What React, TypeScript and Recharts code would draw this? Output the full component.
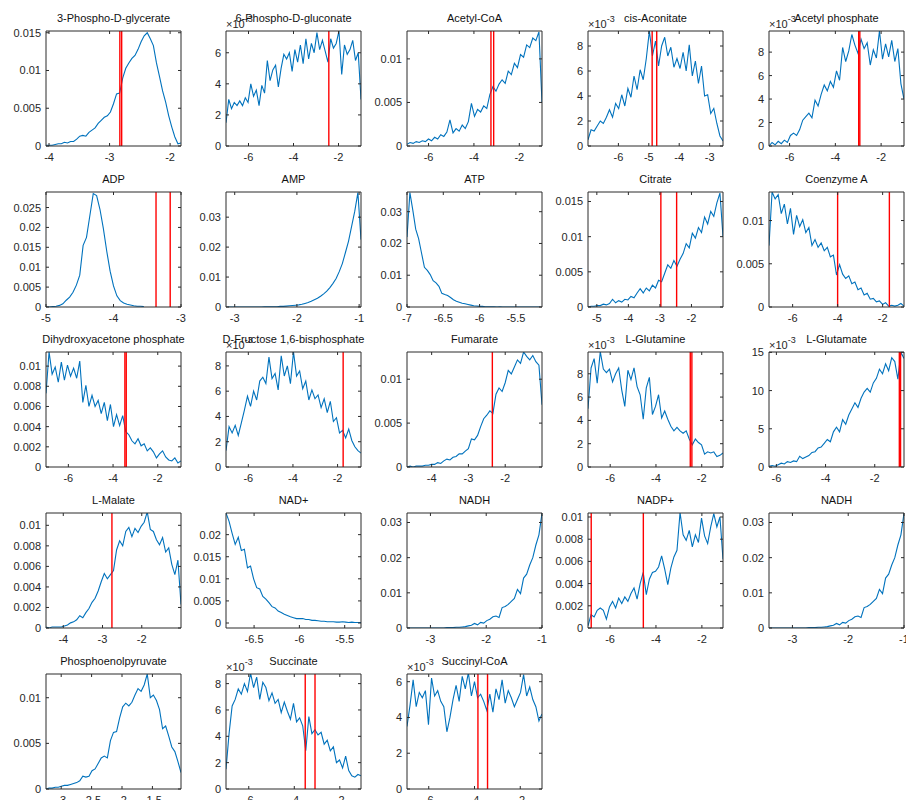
import React from "react";
import { LineChart, Line, XAxis, YAxis, ReferenceLine } from "recharts";

// histogram heights (units of 1e-3)
const PGA3 = [0.1, 0.1, 0.1, 0.2, 0.3, 0.3, 0.5, 0.4, 0.6, 0.6, 0.9, 1.3, 1.4, 1.3, 1.8, 2.1, 2.4, 3.0, 3.4, 3.8, 4.0, 4.5, 5.6, 6.9, 7.0, 9.0, 10.3, 11.0, 11.6, 12.0, 12.8, 13.8, 14.6, 15.0, 14.2, 13.3, 11.0, 9.2, 7.3, 5.8, 4.0, 2.5, 1.2, 0.3, 0.4];
const PGLUC6 = [1.5, 3.0, 2.4, 2.8, 2.6, 2.9, 2.6, 3.1, 2.8, 4.0, 3.2, 3.6, 2.6, 3.9, 3.4, 5.5, 4.2, 4.9, 5.2, 3.8, 5.0, 5.9, 5.6, 6.0, 4.8, 6.2, 5.4, 6.5, 5.3, 6.9, 5.6, 6.6, 6.0, 7.3, 6.2, 6.8, 6.1, 5.4, 6.9, 6.3, 6.6, 7.4, 4.6, 6.5, 5.9, 6.2, 6.8, 5.5, 6.0, 3.0];
const ACCOA = [0.2, 0.4, 0.3, 0.5, 0.4, 0.6, 0.5, 0.8, 0.6, 1.0, 0.8, 1.3, 1.1, 1.6, 3.0, 1.5, 2.0, 1.7, 2.4, 2.0, 2.8, 4.9, 3.4, 4.2, 3.9, 4.6, 4.3, 5.9, 6.8, 6.3, 7.1, 7.6, 7.2, 8.6, 8.2, 9.5, 9.0, 10.5, 10.2, 11.6, 11.3, 12.4, 12.1, 13.1, 5.0];
const CISACO = [0.5, 1.3, 1.2, 1.6, 2.0, 1.8, 2.3, 2.9, 2.3, 3.4, 3.0, 4.1, 3.2, 4.6, 3.9, 5.6, 4.5, 6.1, 5.3, 7.0, 9.2, 7.2, 8.4, 6.4, 8.0, 8.7, 7.2, 7.9, 6.3, 7.0, 6.2, 7.5, 6.0, 8.1, 5.6, 6.8, 5.0, 6.4, 4.0, 4.1, 2.6, 3.0, 1.8, 0.8, 0.4];
const ACP = [0.0, 0.3, 0.1, 0.4, 0.2, 0.5, 0.3, 0.9, 1.1, 0.9, 1.4, 2.2, 2.5, 2.8, 2.4, 3.9, 3.4, 4.4, 5.2, 4.7, 5.5, 5.0, 6.4, 5.6, 8.4, 7.2, 8.1, 9.5, 8.6, 7.9, 9.1, 8.3, 8.8, 6.9, 8.2, 7.5, 9.8, 7.4, 8.7, 7.6, 9.0, 7.2, 8.3, 5.3, 4.0];
const ADP = [0.0, 0.0, 0.1, 0.2, 0.4, 0.8, 1.7, 2.5, 3.7, 5.5, 8.0, 15.5, 17.5, 23.0, 28.5, 28.0, 24.5, 19.7, 14.0, 9.0, 5.3, 2.8, 1.6, 1.0, 0.7, 0.5, 0.3, 0.2, 0.2, 0.1];
const AMP = [0, 0, 0, 0, 0, 0, 0, 0, 0, 0, 0, 0.0, 0.1, 0.1, 0.1, 0.1, 0.1, 0.2, 0.2, 0.3, 0.4, 0.5, 0.6, 0.7, 0.9, 1.2, 1.5, 1.9, 2.4, 2.9, 3.6, 4.4, 5.3, 6.5, 7.9, 9.5, 11.8, 14.5, 18.2, 22.0, 27.0, 32.0, 38.2, 22.5];
const ATP = [22.0, 36.0, 30.5, 24.5, 21.5, 17.0, 12.5, 11.5, 10.2, 8.3, 7.6, 6.5, 4.3, 3.9, 3.6, 3.0, 2.3, 1.8, 1.5, 1.2, 1.0, 0.8, 0.6, 0.4, 0.3, 0.2, 0.2, 0.1, 0.1, 0.1, 0.1, 0.0, 0.1, 0.0, 0.0, 0.0, 0.0, 0.0, 0.0, 0.0, 0.0, 0.0, 0.0, 0.0, 0.0, 0.0, 0.0];
const CIT = [0.0, 0.1, 0.1, 0.2, 0.2, 0.4, 0.3, 0.5, 1.1, 0.6, 0.9, 0.7, 1.1, 1.0, 1.5, 1.3, 2.0, 2.6, 2.0, 2.7, 2.3, 3.1, 2.7, 3.8, 3.6, 4.8, 6.0, 5.5, 6.6, 5.8, 6.8, 7.6, 9.0, 8.4, 10.5, 9.8, 11.3, 10.6, 12.8, 11.8, 13.6, 12.9, 14.8, 16.2, 10.0];
const COA = [7.1, 13.3, 12.5, 13.0, 10.8, 11.9, 9.6, 11.4, 8.4, 10.6, 9.3, 10.1, 8.6, 9.2, 7.1, 7.8, 6.9, 7.4, 6.5, 6.9, 5.8, 6.0, 3.7, 4.9, 3.8, 3.3, 3.6, 2.7, 2.9, 2.0, 2.2, 1.4, 1.6, 0.9, 1.0, 0.6, 0.7, 0.3, 0.5, 0.1, 0.2, 0.1, 0.2, 0.4, 0.1];
const DHAP = [7.3, 11.4, 9.2, 9.9, 8.4, 10.4, 8.6, 10.1, 9.0, 9.8, 8.8, 10.5, 6.4, 8.1, 6.0, 7.1, 6.0, 6.6, 5.3, 6.4, 4.6, 6.2, 4.0, 5.2, 4.1, 5.1, 3.5, 3.2, 2.6, 2.3, 2.8, 2.1, 2.3, 1.6, 1.9, 1.5, 0.9, 1.3, 1.6, 1.0, 0.7, 0.6, 0.9, 0.4, 0.6];
const FBP = [1.3, 3.2, 2.7, 3.3, 2.5, 3.5, 4.5, 5.6, 4.8, 6.0, 5.3, 6.8, 7.1, 6.6, 8.7, 7.0, 7.4, 6.1, 8.8, 7.2, 8.0, 6.6, 9.1, 7.2, 7.6, 6.2, 6.8, 5.3, 6.1, 5.4, 5.7, 4.7, 5.4, 4.3, 5.2, 3.6, 3.9, 2.7, 2.9, 2.3, 3.0, 2.1, 1.6, 1.3, 1.1];
const FUM = [0.0, 0.1, 0.0, 0.1, 0.1, 0.1, 0.2, 0.2, 0.3, 0.3, 0.5, 0.4, 0.7, 0.9, 0.8, 1.1, 1.2, 1.5, 1.5, 1.8, 2.1, 3.2, 3.1, 3.6, 4.6, 5.5, 5.9, 6.4, 6.1, 8.3, 9.0, 8.6, 9.6, 11.0, 10.6, 11.4, 12.2, 11.8, 13.1, 12.6, 12.2, 12.7, 12.0, 11.6, 7.1];
const GLN = [5.0, 8.5, 9.3, 7.2, 9.9, 8.4, 8.1, 8.4, 7.3, 8.0, 8.5, 6.6, 5.2, 8.3, 7.5, 8.5, 6.9, 6.2, 4.1, 6.8, 7.7, 4.5, 5.2, 6.2, 4.2, 4.8, 4.1, 3.5, 3.1, 3.4, 3.1, 2.9, 3.1, 2.4, 1.9, 2.4, 2.1, 1.9, 1.1, 1.3, 1.2, 1.3, 0.9, 1.0, 1.2];
const GLU = [0.1, 0.2, 0.1, 0.3, 0.5, 0.4, 0.7, 0.6, 0.8, 0.7, 1.4, 1.1, 1.3, 1.5, 1.9, 2.0, 2.5, 2.6, 3.1, 3.6, 3.3, 4.6, 5.2, 4.6, 6.2, 5.6, 6.8, 7.6, 8.4, 7.8, 9.0, 9.8, 10.3, 9.8, 11.0, 11.6, 12.8, 12.2, 13.5, 12.6, 14.3, 13.8, 11.5, 15.0, 14.2];
const MAL = [0.1, 0.0, 0.1, 0.1, 0.1, 0.1, 0.2, 0.3, 0.5, 0.6, 0.8, 1.2, 1.0, 1.5, 1.9, 2.5, 2.9, 3.6, 4.5, 5.3, 4.8, 5.2, 5.6, 7.6, 8.5, 8.0, 9.4, 9.8, 8.9, 9.7, 9.3, 9.9, 10.3, 11.3, 9.6, 9.4, 8.6, 8.1, 8.8, 7.4, 7.8, 6.2, 5.2, 6.6, 2.3];
const NAD = [24.9, 23.0, 20.3, 17.8, 19.4, 16.4, 16.7, 12.5, 12.9, 10.0, 8.0, 7.7, 6.0, 5.4, 4.6, 3.7, 3.4, 2.7, 2.4, 2.0, 1.7, 1.4, 1.2, 1.0, 1.0, 1.0, 0.8, 0.8, 0.6, 0.6, 0.5, 0.4, 0.4, 0.3, 0.3, 0.3, 0.2, 0.2, 0.3, 0.2, 0.1, 0.2, 0.1, 0.1, 0.1];
const NADH = [0, 0, 0, 0, 0, 0, 0, 0, 0, 0, 0, 0, 0, 0.1, 0.1, 0.1, 0.2, 0.2, 0.3, 0.4, 0.6, 0.8, 1.3, 0.9, 1.6, 1.4, 2.1, 2.5, 3.2, 3.4, 3.0, 5.8, 6.1, 6.7, 7.6, 8.4, 11.0, 9.8, 14.2, 15.3, 17.9, 20.0, 23.6, 26.5, 32.6];
const NADP = [0.2, 1.2, 1.0, 1.6, 1.8, 1.6, 0.8, 1.9, 2.4, 1.8, 2.7, 2.2, 2.8, 2.4, 3.1, 3.6, 2.6, 4.0, 5.0, 3.0, 4.4, 5.0, 5.1, 5.5, 6.5, 5.3, 3.9, 5.4, 6.4, 7.0, 10.4, 8.4, 7.9, 8.8, 7.3, 8.4, 7.7, 9.9, 8.3, 7.6, 9.1, 10.3, 9.1, 10.0, 6.2];
const PEP = [0.0, 0.1, 0.1, 0.2, 0.2, 0.3, 0.4, 0.4, 0.5, 0.6, 0.7, 0.9, 1.4, 1.3, 1.4, 2.0, 2.2, 2.8, 3.4, 3.6, 3.4, 5.3, 6.2, 6.3, 7.8, 9.0, 9.4, 9.1, 9.5, 10.3, 11.0, 10.7, 11.4, 12.6, 10.0, 10.3, 9.7, 8.7, 6.6, 6.9, 5.8, 4.6, 4.1, 3.0, 1.8];
const SUC = [1.5, 4.2, 6.3, 6.8, 7.6, 7.2, 8.0, 7.4, 8.8, 7.7, 8.5, 6.8, 8.1, 7.7, 6.7, 7.3, 6.5, 6.8, 5.8, 6.6, 5.9, 5.3, 6.5, 5.1, 5.4, 4.8, 2.9, 5.5, 4.2, 4.5, 4.1, 4.3, 3.4, 3.7, 2.9, 3.2, 2.0, 2.2, 1.6, 2.5, 1.4, 1.0, 0.9, 1.1, 1.0];
const SUCCOA = [3.5, 4.7, 6.1, 4.6, 5.4, 5.1, 5.5, 3.6, 6.2, 5.2, 5.5, 4.9, 4.6, 3.2, 4.0, 5.0, 5.8, 4.9, 6.3, 5.6, 6.5, 5.2, 6.0, 5.1, 5.3, 4.9, 4.4, 5.3, 4.3, 5.6, 5.0, 6.1, 4.8, 5.5, 5.1, 4.6, 5.0, 5.4, 6.4, 5.2, 5.7, 5.0, 4.6, 3.8, 4.2];

const TITLES = ["3-Phospho-D-glycerate", "6-Phospho-D-gluconate", "Acetyl-CoA", "cis-Aconitate", "Acetyl phosphate", "ADP", "AMP", "ATP", "Citrate", "Coenzyme A", "Dihydroxyacetone phosphate", "D-Fructose 1,6-bisphosphate", "Fumarate", "L-Glutamine", "L-Glutamate", "L-Malate", "NAD+", "NADH", "NADP+", "NADH", "Phosphoenolpyruvate", "Succinate", "Succinyl-CoA"];
const SERIES = [PGA3, PGLUC6, ACCOA, CISACO, ACP, ADP, AMP, ATP, CIT, COA, DHAP, FBP, FUM, GLN, GLU, MAL, NAD, NADH, NADP, NADH, PEP, SUC, SUCCOA];
// first and last bin centre
const BINS = [[-4.05, -1.82], [-7, -1], [-6.95, -1], [-7, -2.56], [-6.9, -1], [-5, -3.55], [-3.12, -0.97], [-7, -5.16], [-5.28, -1], [-7.05, -1.05], [-7, -0.96], [-7, -0.95], [-4.67, -1], [-6.97, -1.07], [-6.3, -0.81], [-4.44, -1], [-6.81, -5.32], [-3.42, -1], [-6.96, -1.08], [-3.42, -1], [-3.25, -1.03], [-7, -1.07], [-6.95, -1.05]];
const X_DOMAINS = [[-4.05, -1.82], [-7, -1], [-6.95, -1], [-7, -2.56], [-6.9, -1], [-5, -3], [-3.14, -0.97], [-7, -5.14], [-5.28, -1], [-7.05, -1.05], [-7, -0.96], [-7, -0.95], [-4.67, -1], [-6.97, -1.07], [-6.3, -0.81], [-4.44, -1], [-6.81, -5.32], [-3.42, -1], [-6.96, -1.08], [-3.42, -1], [-3.25, -1.03], [-7, -1.07], [-6.95, -1.05]];
const Y_DOMAINS = [[0, 15.23], [0, 7.4], [0, 13.2], [0, 9.2], [0, 9.8], [0, 28.9], [0, 38.4], [0, 36.2], [0, 16.35], [0, 13.3], [0, 11.4], [0, 9.1], [0, 13.1], [0, 9.87], [0, 15.05], [0, 11.2], [-1.13, 24.9], [0, 32.7], [0, 10.36], [0, 32.7], [0, 12.6], [0, 8.73], [0, 6.43]];
const X_TICKS = [[-4, -3, -2], [-6, -4, -2], [-6, -4, -2], [-6, -5, -4, -3], [-6, -4, -2], [-5, -4, -3], [-3, -2, -1], [-7, -6.5, -6, -5.5], [-5, -4, -3, -2], [-6, -4, -2], [-6, -4, -2], [-6, -4, -2], [-4, -3, -2], [-6, -4, -2], [-6, -4, -2], [-4, -3, -2], [-6.5, -6, -5.5], [-3, -2, -1], [-6, -4, -2], [-3, -2, -1], [-3, -2.5, -2, -1.5], [-6, -4, -2], [-6, -4, -2]];
const Y_TICKS = [[0, 5, 10, 15], [0, 2, 4, 6], [0, 5, 10], [0, 2, 4, 6, 8], [0, 2, 4, 6, 8], [0, 5, 10, 15, 20, 25], [0, 10, 20, 30], [0, 10, 20, 30], [0, 5, 10, 15], [0, 5, 10], [0, 2, 4, 6, 8, 10], [0, 2, 4, 6, 8], [0, 5, 10], [0, 2, 4, 6, 8], [0, 5, 10, 15], [0, 2, 4, 6, 8, 10], [0, 5, 10, 15, 20], [0, 10, 20, 30], [0, 2, 4, 6, 8, 10], [0, 10, 20, 30], [0, 5, 10], [0, 2, 4, 6, 8], [0, 2, 4, 6]];
// panels whose y axis carries the x10^-3 multiplier
const EXP_PANELS = [1, 3, 4, 11, 13, 14, 21, 22];
const MARKERS = [[-2.83, -2.8], [-2.43], [-3.25, -3.13], [-4.89, -4.74], [-2.98, -2.93], [-3.37, -3.16], [], [], [-2.97, -2.47], [-4.0, -1.7], [-3.47, -3.41], [-1.75], [-2.35], [-2.5, -2.43], [-1.0, -0.95], [-2.76], [], [], [-6.82, -4.55], [], [], [-3.52, -3.09], [-3.85, -3.43]];

const COL_LEFT = [46, 226, 407, 588, 769];
const ROW_TOP = [31, 192, 352, 513, 674];
const PW = 135;
const PH = 115;
// the axes take 1px each, so the plot area starts at 44/22
const M = { top: 21, right: 5, bottom: 21, left: 43 };
const AXIS = "#2b2b2b";
const TXT = "#262626";
const FONT = "'Liberation Sans', Arial, Helvetica, sans-serif";
const TL = 3; // tick length, pointing inwards

const fmtY = (v: number, exp: boolean) => (exp || v === 0 ? String(v) : String(+(v / 1000).toFixed(4)));

function Panel({ k }: { k: number }) {
  const ys = SERIES[k];
  const [b0, b1] = BINS[k];
  const step = (b1 - b0) / (ys.length - 1);
  const data = ys.map((y, i) => ({ x: b0 + i * step, y }));
  const exp = EXP_PANELS.includes(k);
  const left = COL_LEFT[k % 5];
  const top = ROW_TOP[Math.floor(k / 5)];

  // bottom axis sits on the plot's lower edge; the matching top tick is PH above
  const bottomTick = (p: any) => (
    <g>
      <line x1={p.x} x2={p.x} y1={p.y} y2={p.y - TL} stroke={AXIS} />
      <line x1={p.x} x2={p.x} y1={p.y - PH} y2={p.y - PH + TL} stroke={AXIS} />
      <text x={p.x} y={p.y + 15} textAnchor="middle" fontSize={11} fontFamily={FONT} fill={TXT}>
        {String(p.payload.value)}
      </text>
    </g>
  );
  const leftTick = (p: any) => (
    <g>
      <line x1={p.x} x2={p.x + TL} y1={p.y} y2={p.y} stroke={AXIS} />
      <line x1={p.x + PW} x2={p.x + PW - TL} y1={p.y} y2={p.y} stroke={AXIS} />
      <text x={p.x - 5} y={p.y + 4} textAnchor="end" fontSize={11} fontFamily={FONT} fill={TXT}>
        {fmtY(p.payload.value, exp)}
      </text>
    </g>
  );

  return (
    <div style={{ position: "absolute", left: left - M.left - 1, top: top - M.top - 1 }}>
      <LineChart width={M.left + PW + M.right + 2} height={M.top + PH + M.bottom + 2} data={data} margin={M}>
        <XAxis dataKey="x" type="number" domain={X_DOMAINS[k]} ticks={X_TICKS[k]} allowDataOverflow interval={0}
          height={1} tickSize={0} tickMargin={0} tickLine={false} tick={bottomTick} axisLine={{ stroke: AXIS }} />
        <XAxis xAxisId="top" orientation="top" type="number" domain={X_DOMAINS[k]} allowDataOverflow
          height={1} tickLine={false} tick={false} axisLine={{ stroke: AXIS }} />
        <YAxis type="number" domain={Y_DOMAINS[k]} ticks={Y_TICKS[k]} allowDataOverflow interval={0}
          width={1} tickSize={0} tickMargin={0} tickLine={false} tick={leftTick} axisLine={{ stroke: AXIS }} />
        <YAxis yAxisId="right" orientation="right" type="number" domain={Y_DOMAINS[k]} allowDataOverflow
          width={1} tickLine={false} tick={false} axisLine={{ stroke: AXIS }} />
        <Line dataKey="y" stroke="#0072bd" strokeWidth={1.1} dot={false} isAnimationActive={false} />
        {MARKERS[k].map((m, i) => (
          <ReferenceLine key={i} x={m} stroke="#ff0000" strokeWidth={1.4} />
        ))}
      </LineChart>
    </div>
  );
}

export default function App() {
  return (
    <div style={{ position: "absolute", left: 0, top: 0, width: 906, height: 800, background: "#fff", overflow: "hidden" }}>
      {TITLES.map((_, k) => (
        <Panel key={k} k={k} />
      ))}
      <svg width={906} height={800} style={{ position: "absolute", left: 0, top: 0, pointerEvents: "none" }}>
        {TITLES.map((t, k) => {
          const left = COL_LEFT[k % 5];
          const top = ROW_TOP[Math.floor(k / 5)];
          return (
            <g key={k} fontFamily={FONT} fill={TXT}>
              {EXP_PANELS.includes(k) && (
                <text x={left} y={top - 3} fontSize={11}>
                  ×10<tspan dy={-6} fontSize={9}>-3</tspan>
                </text>
              )}
              <text x={left + PW / 2} y={top - 9} textAnchor="middle" fontSize={11} fill="#111">
                {t}
              </text>
            </g>
          );
        })}
      </svg>
    </div>
  );
}
